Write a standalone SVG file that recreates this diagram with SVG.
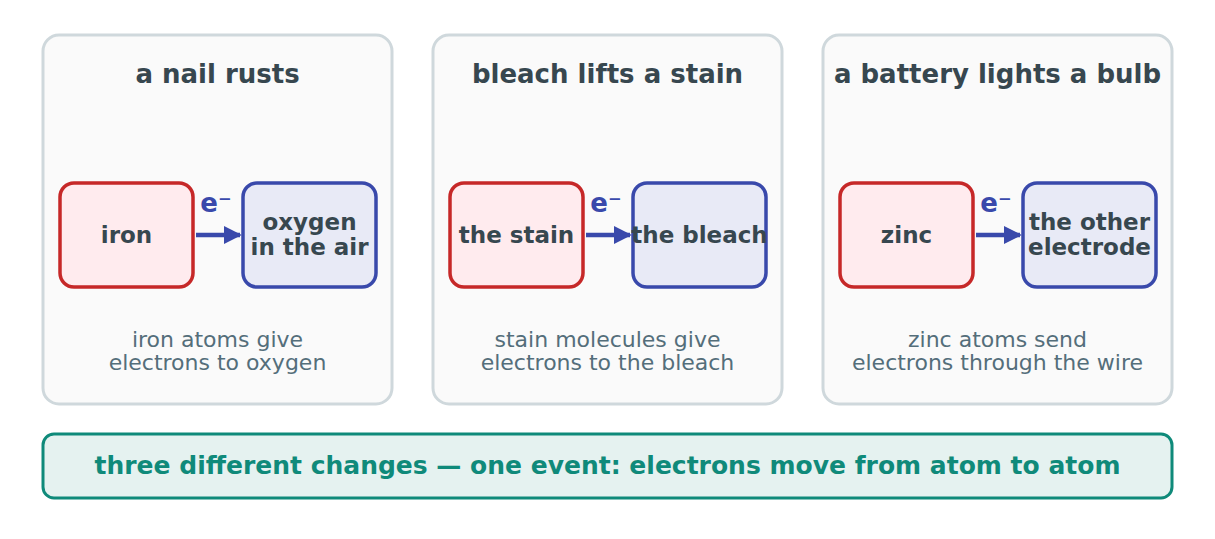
<svg xmlns="http://www.w3.org/2000/svg" width="1215" height="539" viewBox="0 0 1215 539">
<style>
.panel{fill:#fafafa;stroke:#cfd8dc;stroke-width:3}
.red{fill:#ffebee;stroke:#c62828;stroke-width:3.5}
.blue{fill:#e8eaf6;stroke:#3949ab;stroke-width:3.5}
.title{font-family:"DejaVu Sans",sans-serif;font-weight:bold;font-size:26px;fill:#37474f;text-anchor:middle}
.lbl{font-family:"DejaVu Sans",sans-serif;font-weight:bold;font-size:23px;fill:#37474f;text-anchor:middle}
.cap{font-family:"DejaVu Sans",sans-serif;font-size:22px;fill:#546e7a;text-anchor:middle}
.e{font-family:"DejaVu Sans",sans-serif;font-weight:bold;font-size:26px;fill:#3949ab;text-anchor:middle}
.arr{stroke:#3949ab;stroke-width:4.5;fill:none;marker-end:url(#ah)}
</style>
<defs>
<marker id="ah" viewBox="0 0 10 10" refX="9" refY="5" markerWidth="4" markerHeight="4" markerUnits="strokeWidth" orient="auto">
<path d="M0,0 L10,5 L0,10 z" fill="#3949ab"/>
</marker>
</defs>
<rect width="1215" height="539" fill="#ffffff"/>
<g id="panel1">
<rect class="panel" x="43" y="35" width="349" height="369" rx="16"/>
<text class="title" x="217.5" y="83">a nail rusts</text>
<text class="cap" x="217.5" y="347">iron atoms give</text>
<text class="cap" x="217.5" y="370">electrons to oxygen</text>
</g>
<g id="panel2">
<rect class="panel" x="433" y="35" width="349" height="369" rx="16"/>
<text class="title" x="607.5" y="83">bleach lifts a stain</text>
<text class="cap" x="607.5" y="347">stain molecules give</text>
<text class="cap" x="607.5" y="370">electrons to the bleach</text>
</g>
<g id="panel3">
<rect class="panel" x="823" y="35" width="349" height="369" rx="16"/>
<text class="title" x="997.5" y="83">a battery lights a bulb</text>
<text class="cap" x="997.5" y="347">zinc atoms send</text>
<text class="cap" x="997.5" y="370">electrons through the wire</text>
</g>
<g id="iron">
<rect class="red" x="60" y="183" width="133" height="104" rx="14"/>
<text class="lbl" x="126.5" y="243">iron</text>
</g>
<g id="oxygen">
<rect class="blue" x="243" y="183" width="133" height="104" rx="14"/>
<text class="lbl" x="309.5" y="230">oxygen</text>
<text class="lbl" x="309.5" y="255">in the air</text>
</g>
<g id="stain">
<rect class="red" x="450" y="183" width="133" height="104" rx="14"/>
<text class="lbl" x="516.5" y="243">the stain</text>
</g>
<g id="bleach">
<rect class="blue" x="633" y="183" width="133" height="104" rx="14"/>
<text class="lbl" x="699.5" y="243">the bleach</text>
</g>
<g id="zinc">
<rect class="red" x="840" y="183" width="133" height="104" rx="14"/>
<text class="lbl" x="906.5" y="243">zinc</text>
</g>
<g id="electrode">
<rect class="blue" x="1023" y="183" width="133" height="104" rx="14"/>
<text class="lbl" x="1089.5" y="230">the other</text>
<text class="lbl" x="1089.5" y="255">electrode</text>
</g>
<g id="connectors">
<line class="arr" x1="196" y1="235" x2="240" y2="235"/>
<text class="e" x="216" y="212">e⁻</text>
<line class="arr" x1="586" y1="235" x2="630" y2="235"/>
<text class="e" x="606" y="212">e⁻</text>
<line class="arr" x1="976" y1="235" x2="1020" y2="235"/>
<text class="e" x="996" y="212">e⁻</text>
</g>
<g id="banner">
<rect x="43" y="434" width="1129" height="64" rx="11" fill="#e5f2f0" stroke="#0f8a7a" stroke-width="3"/>
<text x="607.5" y="474" font-family="DejaVu Sans, sans-serif" font-weight="bold" font-size="25" fill="#0f8a7a" text-anchor="middle">three different changes — one event: electrons move from atom to atom</text>
</g>
</svg>
